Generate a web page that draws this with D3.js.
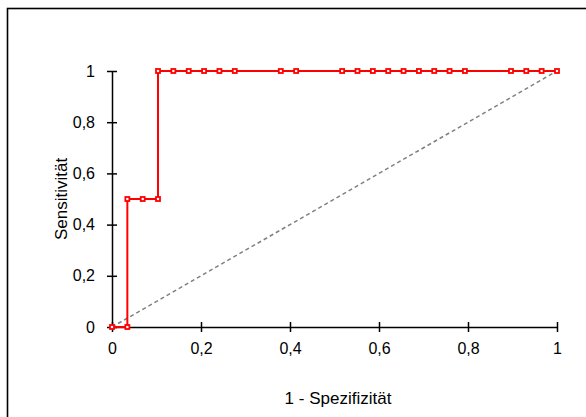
<!DOCTYPE html>
<html>
<head>
<meta charset="utf-8">
<script src="https://cdn.jsdelivr.net/npm/d3@7"></script>
<style>
  body { margin: 0; background: #fff; }
  text { font-family: "Liberation Sans", Arial, sans-serif; fill: #000; }
</style>
</head>
<body>
<div id="chart"></div>
<script>
let width = 586, height = 417;

// ROC points: 1 - specificity, sensitivity
let fpr = [0, 0.0345, 0.0345, 0.069, 0.1034, 0.1034, 0.1379, 0.1724, 0.2069, 0.2414, 0.2759,
           0.3793, 0.4138, 0.5172, 0.5517, 0.5862, 0.6207, 0.6552, 0.6897, 0.7241, 0.7586,
           0.7931, 0.8966, 0.931, 0.9655, 1];
let tpr = [0, 0, 0.5, 0.5, 0.5, 1, 1, 1, 1, 1, 1,
           1, 1, 1, 1, 1, 1, 1, 1, 1, 1,
           1, 1, 1, 1, 1];
let xTicks = [0, 0.2, 0.4, 0.6, 0.8, 1];
let yTicks = [0, 0.2, 0.4, 0.6, 0.8, 1];

let pts = fpr.map((d, i) => ({x: d, y: tpr[i]}));

let svg = d3.select("#chart").append("svg")
  .attr("width", width).attr("height", height);

// frame (only top/left visible)
svg.append("rect")
  .attr("x", 7.5).attr("y", 8.5)
  .attr("width", 600).attr("height", 430)
  .attr("fill", "none").attr("stroke", "#000").attr("stroke-width", 1.6);

let x = d3.scaleLinear().domain([0, 1]).range([112, 557]);
let y = d3.scaleLinear().domain([0, 1]).range([327, 71]);

let fmt = d => d === 0 || d === 1 ? String(d) : String(d).replace(".", ",");

// x axis
let xa = svg.append("g").attr("transform", "translate(0,327)")
  .call(d3.axisBottom(x).tickValues(xTicks).tickFormat(fmt).tickSize(5).tickPadding(11).tickSizeOuter(0));
xa.select(".domain").attr("stroke-width", 1.5);
xa.selectAll(".tick line").attr("y1", -5).attr("stroke-width", 1.5);
xa.selectAll("text").style("font-size", "16px").attr("font-family", null);

// y axis
let ya = svg.append("g").attr("transform", "translate(112,0)")
  .call(d3.axisLeft(y).tickValues(yTicks).tickFormat(fmt).tickSize(5).tickPadding(12).tickSizeOuter(0));
ya.select(".domain").attr("stroke-width", 1.5);
ya.selectAll(".tick line").attr("x1", 5).attr("x2", -5).attr("stroke-width", 1.5);
ya.selectAll("text").style("font-size", "16px").attr("font-family", null);

// diagonal
svg.append("line")
  .attr("x1", x(0)).attr("y1", y(0)).attr("x2", x(1)).attr("y2", y(1))
  .attr("stroke", "#808080").attr("stroke-width", 1.5).attr("stroke-dasharray", "4,3");

// ROC curve
let line = d3.line().x(d => x(d.x)).y(d => y(d.y));
svg.append("path").datum(pts)
  .attr("d", line).attr("fill", "none")
  .attr("stroke", "#ff0000").attr("stroke-width", 2);

svg.selectAll("rect.mk").data(pts).enter().append("rect")
  .attr("class", "mk")
  .attr("x", d => x(d.x) - 2).attr("y", d => y(d.y) - 2)
  .attr("width", 4).attr("height", 4)
  .attr("fill", "#fff").attr("stroke", "#ff0000").attr("stroke-width", 1.8);

// axis titles
svg.append("text").attr("x", 338).attr("y", 404).attr("text-anchor", "middle")
  .style("font-size", "17px").text("1 - Spezifizität");
svg.append("text").attr("transform", "translate(67,199) rotate(-90)")
  .attr("text-anchor", "middle").style("font-size", "17px").text("Sensitivität");
</script>
</body>
</html>
